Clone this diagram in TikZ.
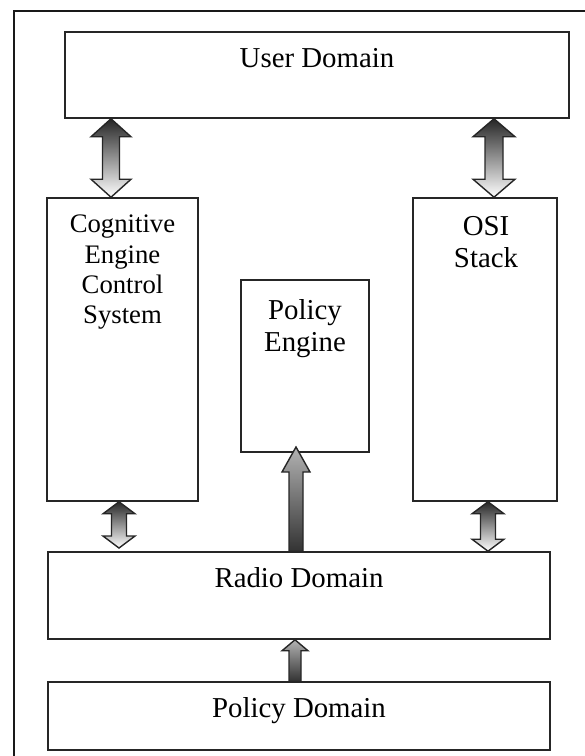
\documentclass[tikz,border=0pt]{standalone}
\usepackage{fontspec}
\setmainfont{Liberation Serif}
\usetikzlibrary{calc,fit}
% vertical block arrows: (top)(bottom)[half shaft:half head:head length]
\def\bothways(#1)(#2)[#3:#4:#5]{\path[pipe, top color=black!85, bottom color=white] (#1) -- ($(#1)+(#4,#5)$) -- ($(#1)+(#3,#5)$) -- ($(#2)+(#3,-#5)$) -- ($(#2)+(#4,-#5)$) -- (#2) -- ($(#2)+(-#4,-#5)$) -- ($(#2)+(-#3,-#5)$) -- ($(#1)+(-#3,#5)$) -- ($(#1)+(-#4,#5)$) -- cycle;}
\def\oneway(#1)(#2)[#3:#4:#5]{\path[pipe, top color=black!30, bottom color=black!80] (#1) -- ($(#1)+(#4,#5)$) -- ($(#1)+(#3,#5)$) -- ($(#2)+(#3,0)$) -- ($(#2)+(-#3,0)$) -- ($(#1)+(-#3,#5)$) -- ($(#1)+(-#4,#5)$) -- cycle;}

\tikzset{
  blk/.style={draw=black!85, line width=1.1pt, inner sep=0pt},
  lbl/.style={font=\fontsize{20.5}{23}\selectfont, align=center, inner sep=0pt},
  pipe/.style={draw=black!85, line width=1pt},
}

\begin{document}
\begin{tikzpicture}[x=0.025cm, y=-0.025cm]
	%%%%% START %%%%%
	\useasboundingbox (0, 0) rectangle (585, 756);
	\draw[line width=1.5pt, black!90] (14, 780) -- (14, 11) -- (600, 11);

	\node[blk, fit={(65, 32) (569, 118)}] (user) {};
	\node[blk, fit={(47, 198) (198, 501)}] (cog) {};
	\node[blk, fit={(241, 280) (369, 452)}] (pol) {};
	\node[blk, fit={(413, 198) (557, 501)}] (osi) {};
	\node[blk, fit={(48, 552) (550, 639)}] (radio) {};
	\node[blk, fit={(48, 682) (550, 750)}] (poldom) {};

	\node[lbl, anchor=base] at (317, 67) {User Domain};
	\node[lbl, anchor=north, font=\fontsize{19}{21.5}\selectfont] at (122.5, 215) {Cognitive\\Engine\\Control\\System};
	\node[lbl, anchor=north] at (305, 299) {Policy\\Engine};
	\node[lbl, anchor=north] at (486, 216) {OSI\\Stack};
	\node[lbl, anchor=base] at (299, 587) {Radio Domain};
	\node[lbl, anchor=base] at (299, 717) {Policy Domain};

	\coordinate (ul) at (111, 0 |- user.south);
	\coordinate (cl) at (111, 0 |- cog.north);
	\coordinate (ur) at (494, 0 |- user.south);
	\coordinate (or) at (494, 0 |- osi.north);
	\bothways(ul)(cl)[8.5:20:18];
	\bothways(ur)(or)[9:21:18];

	\coordinate (cb) at (119, 0 |- cog.south);
	\coordinate (rl) at (119, 548);
	\coordinate (ob) at (488, 0 |- osi.south);
	\coordinate (rr) at (488, 0 |- radio.north);
	\bothways(cb)(rl)[7.5:16:12];
	\bothways(ob)(rr)[7.5:16:12];

	\coordinate (pt) at (296, 447);
	\coordinate (rt) at (296, 0 |- radio.north);
	\oneway(pt)(rt)[7:14:25];

	\coordinate (rb) at (295, 0 |- radio.south);
	\coordinate (dt) at (295, 0 |- poldom.north);
	\oneway(rb)(dt)[6:13:11];
	%%%%% END %%%%%
\end{tikzpicture}
\end{document}
